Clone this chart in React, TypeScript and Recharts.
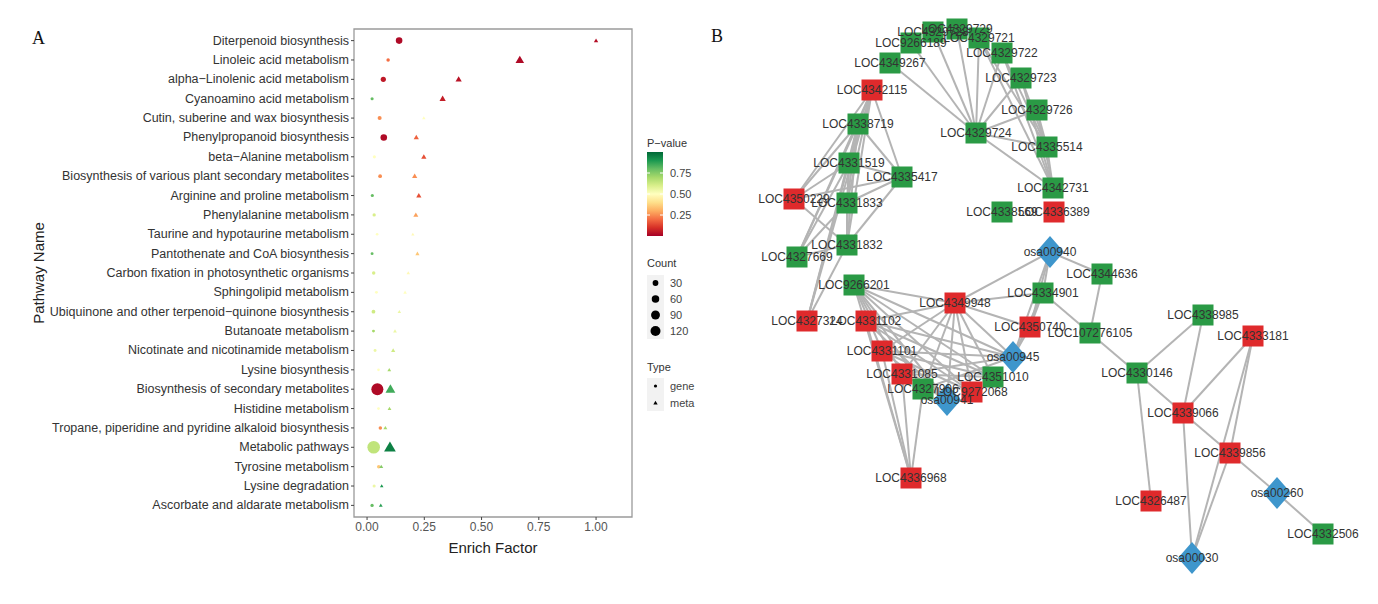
import React from "react";
import { ScatterChart, Scatter, XAxis, YAxis, ReferenceArea, ReferenceLine } from "recharts";

// ---------- Panel A: KEGG enrichment bubble plot ----------
const pathways = [
  "Diterpenoid biosynthesis",
  "Linoleic acid metabolism",
  "alpha\u2212Linolenic acid metabolism",
  "Cyanoamino acid metabolism",
  "Cutin, suberine and wax biosynthesis",
  "Phenylpropanoid biosynthesis",
  "beta\u2212Alanine metabolism",
  "Biosynthesis of various plant secondary metabolites",
  "Arginine and proline metabolism",
  "Phenylalanine metabolism",
  "Taurine and hypotaurine metabolism",
  "Pantothenate and CoA biosynthesis",
  "Carbon fixation in photosynthetic organisms",
  "Sphingolipid metabolism",
  "Ubiquinone and other terpenoid\u2212quinone biosynthesis",
  "Butanoate metabolism",
  "Nicotinate and nicotinamide metabolism",
  "Lysine biosynthesis",
  "Biosynthesis of secondary metabolites",
  "Histidine metabolism",
  "Tropane, piperidine and pyridine alkaloid biosynthesis",
  "Metabolic pathways",
  "Tyrosine metabolism",
  "Lysine degradation",
  "Ascorbate and aldarate metabolism",
];

const geneFactor = [0.14, 0.092, 0.071, 0.022, 0.055, 0.073, 0.032, 0.057, 0.023, 0.031, 0.044, 0.022, 0.029, 0.041, 0.028, 0.028, 0.035, 0.05, 0.045, 0.05, 0.058, 0.029, 0.051, 0.031, 0.022];
const geneP = [0.02, 0.2, 0.05, 0.8, 0.25, 0.02, 0.5, 0.25, 0.8, 0.6, 0.5, 0.8, 0.6, 0.5, 0.62, 0.7, 0.55, 0.5, 0.02, 0.5, 0.25, 0.65, 0.35, 0.55, 0.8];
const geneCount = [42, 6, 22, 4, 10, 42, 4, 8, 4, 5, 2, 3, 6, 3, 8, 3, 3, 2, 185, 2, 6, 205, 6, 4, 5];

const metaFactor = [1.0, 0.667, 0.4, 0.33, 0.248, 0.215, 0.248, 0.208, 0.226, 0.213, 0.2, 0.22, 0.18, 0.166, 0.141, 0.122, 0.114, 0.097, 0.102, 0.098, 0.08, 0.1, 0.062, 0.064, 0.06];
const metaP = [0.03, 0.02, 0.04, 0.06, 0.5, 0.18, 0.15, 0.25, 0.15, 0.28, 0.48, 0.35, 0.48, 0.5, 0.55, 0.55, 0.62, 0.7, 0.85, 0.7, 0.7, 0.95, 0.75, 0.9, 0.88];
const metaCount = [7, 53, 22, 22, 3, 13, 13, 13, 13, 11, 2, 6, 3, 3, 3, 4, 6, 4, 74, 4, 5, 114, 5, 3, 4];

const factorTicks = [0, 0.25, 0.5, 0.75, 1];
const countBreaks = [30, 60, 90, 120];
const pBreaks = [0.25, 0.5, 0.75];

const RDYLGN = ["#a50026", "#d73027", "#f46d43", "#fdae61", "#fee08b", "#ffffbf", "#d9ef8b", "#a6d96a", "#66bd63", "#1a9850", "#006837"];

function hexToRgb(h: string) {
  return [1, 3, 5].map((i) => parseInt(h.slice(i, i + 2), 16));
}

function pColor(p: number) {
  const t = Math.max(0, Math.min(1, p)) * (RDYLGN.length - 1);
  const i = Math.min(Math.floor(t), RDYLGN.length - 2);
  const f = t - i;
  const a = hexToRgb(RDYLGN[i]);
  const b = hexToRgb(RDYLGN[i + 1]);
  const c = a.map((v, k) => Math.round(v + (b[k] - v) * f));
  return `rgb(${c[0]},${c[1]},${c[2]})`;
}

function radius(count: number) {
  return 0.8 + 4.2 * Math.sqrt(count / 120);
}

const geneData = pathways.map((name, i) => ({ name, x: geneFactor[i], y: i + 1, p: geneP[i], count: geneCount[i], type: "gene" }));
const metaData = pathways.map((name, i) => ({ name, x: metaFactor[i], y: i + 1, p: metaP[i], count: metaCount[i], type: "meta" }));

const FONT = "'Liberation Sans', Arial, sans-serif";

function triPoints(cx: number, cy: number, r: number) {
  const h = r * 1.2;
  return `${cx},${cy - h} ${cx - h},${cy + h * 0.72} ${cx + h},${cy + h * 0.72}`;
}

const Mark = (props: any) => {
  const { cx, cy, payload } = props;
  const r = radius(payload.count);
  const fill = pColor(payload.p);
  if (payload.type === "meta") {
    return <polygon points={triPoints(cx, cy, r)} fill={fill} />;
  }
  return <circle cx={cx} cy={cy} r={r} fill={fill} />;
};

// single-line category label (no wrapping)
const PathwayTick = (props: any) => {
  const { x, y, payload } = props;
  return (
    <text x={x} y={y} textAnchor="end" dominantBaseline="central" fontSize={12.5} fontFamily={FONT} fill="#333">
      {pathways[payload.value - 1] ?? ""}
    </text>
  );
};

// ---------- Panel B: gene-metabolite network ----------
const nodeIds = [
  "LOC4329728", "LOC4329729", "LOC4329721", "LOC9266189", "LOC4329722", "LOC4349267", "LOC4329723", "LOC4342115",
  "LOC4329726", "LOC4338719", "LOC4329724", "LOC4335514", "LOC4331519", "LOC4335417", "LOC4342731", "LOC4350229",
  "LOC4331833", "LOC4338569", "LOC4336389", "LOC4331832", "LOC4327669", "osa00940", "LOC4344636", "LOC9266201",
  "LOC4334901", "LOC4349948", "LOC4327324", "LOC4331102", "LOC4350740", "LOC107276105", "LOC4338985", "LOC4333181",
  "LOC4331101", "osa00945", "LOC4330146", "LOC4331085", "LOC4351010", "LOC9272068", "LOC4327906", "osa00941",
  "LOC4339066", "LOC4339856", "LOC4336968", "osa00260", "LOC4326487", "LOC4332506", "osa00030",
];
// g = gene (green), r = gene (red), m = metabolic pathway (blue)
const nodeKind = [
  "g", "g", "g", "g", "g", "g", "g", "r",
  "g", "g", "g", "g", "g", "g", "g", "r",
  "g", "g", "r", "g", "g", "m", "g", "g",
  "g", "r", "r", "r", "r", "g", "g", "r",
  "r", "m", "g", "r", "g", "r", "g", "m",
  "r", "r", "r", "m", "r", "g", "m",
];
// layout coordinates
const nodeX = [
  233, 257, 279, 211, 302, 190, 321, 172,
  337, 158, 276, 347, 149, 202, 353, 94,
  147, 302, 354, 147, 97, 350, 402, 154,
  343, 255, 107, 166, 330, 390, 503, 553,
  182, 313, 437, 202, 293, 272, 223, 247,
  483, 530, 211, 577, 451, 623, 492,
];
const nodeY = [
  32, 29, 38, 43, 53, 63, 78, 90,
  110, 124, 133, 147, 163, 177, 188, 199,
  203, 212, 212, 245, 257, 252, 274, 285,
  293, 303, 321, 321, 327, 333, 315, 336,
  351, 357, 373, 374, 377, 392, 389, 400,
  413, 453, 478, 493, 501, 534, 558,
];

const edges: [string, string][] = [
  // top cluster
  ["LOC4329724", "LOC4329728"], ["LOC4329724", "LOC4329729"], ["LOC4329724", "LOC4329721"], ["LOC4329724", "LOC9266189"],
  ["LOC4329724", "LOC4329722"], ["LOC4329724", "LOC4349267"], ["LOC4329724", "LOC4329723"], ["LOC4329724", "LOC4329726"],
  ["LOC4329724", "LOC4335514"], ["LOC4329724", "LOC4342731"],
  ["LOC4329721", "LOC4335514"], ["LOC4329721", "LOC4342731"], ["LOC4329722", "LOC4335514"], ["LOC4329722", "LOC4342731"],
  ["LOC4329723", "LOC4335514"], ["LOC4329723", "LOC4342731"], ["LOC4329726", "LOC4342731"], ["LOC4329726", "LOC4335514"],
  ["LOC4335514", "LOC4342731"],
  // left cluster
  ["LOC4342115", "LOC4338719"], ["LOC4342115", "LOC4331519"], ["LOC4342115", "LOC4331833"], ["LOC4342115", "LOC4331832"],
  ["LOC4342115", "LOC4327669"], ["LOC4342115", "LOC4350229"], ["LOC4342115", "LOC4335417"], ["LOC4342115", "LOC4327324"],
  ["LOC4338719", "LOC4331519"], ["LOC4338719", "LOC4331833"], ["LOC4338719", "LOC4331832"], ["LOC4338719", "LOC4327669"],
  ["LOC4338719", "LOC4350229"], ["LOC4338719", "LOC4335417"], ["LOC4338719", "LOC4327324"],
  ["LOC4331519", "LOC4331833"], ["LOC4331519", "LOC4331832"], ["LOC4331519", "LOC4327669"], ["LOC4331519", "LOC4350229"],
  ["LOC4331519", "LOC4335417"], ["LOC4331519", "LOC4327324"],
  ["LOC4335417", "LOC4331833"], ["LOC4335417", "LOC4350229"], ["LOC4335417", "LOC4331832"],
  ["LOC4331833", "LOC4327669"], ["LOC4331833", "LOC4331832"], ["LOC4350229", "LOC4331832"],
  ["LOC4331832", "LOC4327669"], ["LOC4331832", "LOC4327324"],
  // middle cluster
  ["LOC4349948", "LOC9266201"], ["LOC4349948", "LOC4331102"], ["LOC4349948", "LOC4331101"], ["LOC4349948", "LOC4331085"],
  ["LOC4349948", "LOC4327906"], ["LOC4349948", "osa00941"], ["LOC4349948", "LOC9272068"], ["LOC4349948", "LOC4351010"],
  ["LOC4349948", "osa00945"], ["LOC4349948", "LOC4350740"], ["LOC4349948", "LOC4334901"], ["LOC4349948", "osa00940"],
  ["LOC9266201", "LOC4331101"], ["LOC9266201", "LOC4331085"], ["LOC9266201", "osa00945"], ["LOC9266201", "LOC4351010"],
  ["LOC9266201", "LOC9272068"], ["LOC9266201", "osa00941"], ["LOC9266201", "LOC4327906"], ["LOC9266201", "LOC4336968"],
  ["LOC4331102", "osa00945"], ["LOC4331102", "LOC4351010"], ["LOC4331102", "LOC9272068"], ["LOC4331102", "osa00941"],
  ["LOC4331102", "LOC4336968"],
  ["LOC4331101", "osa00945"], ["LOC4331101", "LOC4351010"], ["LOC4331101", "LOC9272068"], ["LOC4331101", "osa00941"],
  ["LOC4331101", "LOC4336968"],
  ["LOC4331085", "osa00945"], ["LOC4331085", "LOC4351010"], ["LOC4331085", "osa00941"], ["LOC4331085", "LOC4336968"],
  ["LOC4327906", "LOC4336968"], ["LOC4327906", "osa00945"],
  ["osa00940", "LOC4334901"], ["osa00940", "LOC4350740"], ["osa00940", "osa00945"], ["osa00940", "LOC4344636"],
  ["LOC4334901", "LOC4350740"], ["LOC4334901", "osa00945"], ["LOC4334901", "LOC107276105"], ["LOC4350740", "osa00945"],
  ["LOC4344636", "LOC107276105"], ["LOC107276105", "LOC4330146"],
  // right cluster
  ["LOC4330146", "LOC4338985"], ["LOC4330146", "LOC4339066"], ["LOC4330146", "LOC4326487"], ["LOC4338985", "LOC4339066"],
  ["LOC4333181", "LOC4339066"], ["LOC4333181", "LOC4339856"], ["LOC4333181", "osa00030"], ["LOC4339066", "LOC4339856"],
  ["LOC4339066", "osa00030"], ["LOC4339856", "osa00260"], ["LOC4339856", "osa00030"], ["osa00260", "LOC4332506"],
];

const KIND_COLOR: Record<string, string> = { g: "#2a9a45", r: "#df2a2c", m: "#3e96cc" };

const nodes = nodeIds.map((id, i) => ({ id, kind: nodeKind[i], x: nodeX[i], y: nodeY[i] }));
const nodeIndex: Record<string, number> = {};
nodeIds.forEach((id, i) => (nodeIndex[id] = i));

const NodeShape = (props: any) => {
  const { cx, cy, payload } = props;
  const fill = KIND_COLOR[payload.kind];
  if (payload.kind === "m") {
    const w = 14;
    const h = 16;
    return <polygon points={`${cx},${cy - h} ${cx + w},${cy} ${cx},${cy + h} ${cx - w},${cy}`} fill={fill} />;
  }
  return <rect x={cx - 10.5} y={cy - 10.5} width={21} height={21} fill={fill} />;
};

const NodeLabel = (props: any) => {
  const { cx, cy, payload } = props;
  return (
    <text x={cx} y={cy} textAnchor="middle" dominantBaseline="central" fontSize={12} fontFamily={FONT} fill="#333">
      {payload.id}
    </text>
  );
};

export default function App() {
  const barTop = 152;
  const barH = 84;
  const countY = [283, 299, 315, 331];
  return (
    <div style={{ position: "absolute", left: 0, top: 0, width: 1378, height: 604, background: "#fff" }}>
      <div style={{ position: "absolute", left: 0, top: 0 }}>
        <ScatterChart width={700} height={604} margin={{ top: 29, right: 68, bottom: 47, left: 54 }}>
          <XAxis
            type="number"
            dataKey="x"
            domain={[-0.057, 1.157]}
            ticks={factorTicks}
            allowDataOverflow
            tickFormatter={(v: number) => v.toFixed(2)}
            axisLine={false}
            tickSize={3}
            tickMargin={2}
            height={40}
            tickLine={{ stroke: "#444" }}
            tick={{ fontSize: 12, fill: "#555", fontFamily: FONT }}
            label={{ value: "Enrich Factor", position: "insideBottom", offset: 4, fontSize: 15, fill: "#222", fontFamily: FONT }}
          />
          <YAxis
            type="number"
            dataKey="y"
            domain={[0.4, 25.6]}
            reversed
            ticks={pathways.map((_, i) => i + 1)}
            interval={0}
            axisLine={false}
            tickSize={3}
            tickMargin={2}
            width={300}
            tickLine={{ stroke: "#444" }}
            tick={<PathwayTick />}
          />
          <ReferenceArea x1={-0.057} x2={1.157} y1={0.4} y2={25.6} fill="none" stroke="#9a9a9a" strokeWidth={1.3} ifOverflow="visible" />
          <Scatter data={geneData} shape={Mark} isAnimationActive={false} />
          <Scatter data={metaData} shape={Mark} isAnimationActive={false} />
        </ScatterChart>
      </div>

      <div style={{ position: "absolute", left: 700, top: 0 }}>
        <ScatterChart width={678} height={604} margin={{ top: 0, right: 0, bottom: 0, left: 0 }}>
          <XAxis type="number" dataKey="x" domain={[0, 678]} hide />
          <YAxis type="number" dataKey="y" domain={[0, 604]} reversed hide />
          {edges.map(([a, b], k) => {
            const na = nodes[nodeIndex[a]];
            const nb = nodes[nodeIndex[b]];
            return (
              <ReferenceLine
                key={k}
                segment={[{ x: na.x, y: na.y }, { x: nb.x, y: nb.y }]}
                stroke="#b4b4b4"
                strokeWidth={2}
                ifOverflow="visible"
              />
            );
          })}
          <Scatter data={nodes} shape={NodeShape} isAnimationActive={false} />
          <Scatter data={nodes} shape={NodeLabel} isAnimationActive={false} />
        </ScatterChart>
      </div>

      <svg width={1378} height={604} style={{ position: "absolute", left: 0, top: 0, pointerEvents: "none" }}>
        <defs>
          <linearGradient id="pgrad" x1="0" y1="1" x2="0" y2="0">
            {RDYLGN.map((c, i) => (
              <stop key={i} offset={i / (RDYLGN.length - 1)} stopColor={pColor(i / (RDYLGN.length - 1))} />
            ))}
          </linearGradient>
        </defs>
        <text x={32} y={44} fontSize={18} fontFamily="'Liberation Serif', 'Times New Roman', serif" fill="#111">A</text>
        <text x={711} y={42} fontSize={18} fontFamily="'Liberation Serif', 'Times New Roman', serif" fill="#111">B</text>
        <text x={38} y={273} transform="rotate(-90 38 273)" textAnchor="middle" dominantBaseline="central" fontSize={15} fontFamily={FONT} fill="#222">
          Pathway Name
        </text>

        {/* P-value colour bar */}
        <text x={647} y={147} fontSize={11} fontFamily={FONT} fill="#333">P{"\u2212"}value</text>
        <rect x={647} y={barTop} width={16} height={barH} fill="url(#pgrad)" />
        {pBreaks.map((v) => {
          const y = barTop + barH - v * barH;
          return (
            <g key={v}>
              <line x1={647} x2={650} y1={y} y2={y} stroke="#fff" />
              <line x1={660} x2={663} y1={y} y2={y} stroke="#fff" />
              <text x={670} y={y} dominantBaseline="central" fontSize={11} fontFamily={FONT} fill="#444">{v.toFixed(2)}</text>
            </g>
          );
        })}

        {/* Count legend */}
        <text x={647} y={267} fontSize={11} fontFamily={FONT} fill="#333">Count</text>
        {countBreaks.map((c, i) => (
          <g key={c}>
            <rect x={647} y={countY[i] - 8} width={17} height={16} fill="#f2f2f2" />
            <circle cx={655.5} cy={countY[i]} r={radius(c)} fill="#000" />
            <text x={670} y={countY[i]} dominantBaseline="central" fontSize={11} fontFamily={FONT} fill="#444">{c}</text>
          </g>
        ))}

        {/* Type legend */}
        <text x={647} y={371} fontSize={11} fontFamily={FONT} fill="#333">Type</text>
        <rect x={647} y={378} width={17} height={33} fill="#f2f2f2" />
        <circle cx={655.5} cy={386} r={1.6} fill="#000" />
        <text x={670} y={386} dominantBaseline="central" fontSize={11} fontFamily={FONT} fill="#444">gene</text>
        <polygon points={triPoints(655.5, 403, 1.8)} fill="#000" />
        <text x={670} y={403} dominantBaseline="central" fontSize={11} fontFamily={FONT} fill="#444">meta</text>
      </svg>
    </div>
  );
}
